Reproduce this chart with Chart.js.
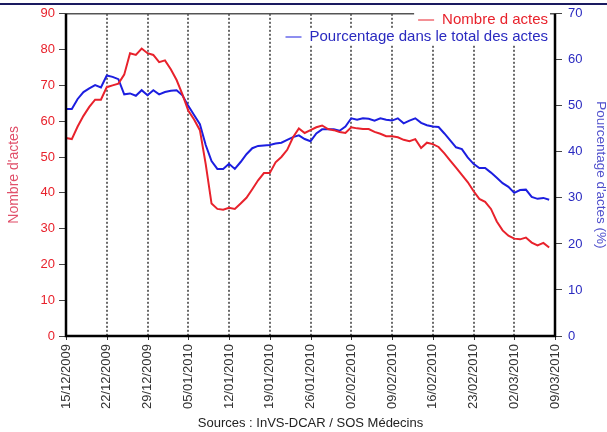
<!DOCTYPE html>
<html>
<head>
<meta charset="utf-8">
<script src="https://cdn.jsdelivr.net/npm/chart.js@4"></script>
<style>
  html, body { margin: 0; padding: 0; background: #fff; }
  canvas { display: block; }
</style>
</head>
<body>
<canvas id="myChart" width="607" height="432"></canvas>
<script>
// --- DONNEES ---
const startDate = "2009-12-15";
const nbJours = 85;
const tickLabels = ["15/12/2009", "22/12/2009", "29/12/2009", "05/01/2010", "12/01/2010", "19/01/2010",
  "26/01/2010", "02/02/2010", "09/02/2010", "16/02/2010", "23/02/2010", "02/03/2010", "09/03/2010"];

const nombreActes = [
  55.3, 55, 58.5, 61.5, 64, 66, 66, 69.5, 70, 70.5,
  73, 79, 78.5, 80.3, 79, 78.5, 76.5, 77, 74.5, 71.5,
  67.5, 63, 60.5, 57.5, 48, 37, 35.5, 35.3, 35.8, 35.5,
  37, 38.6, 41, 43.5, 45.5, 45.5, 48.5, 50, 52, 55.5,
  58, 56.7, 57.5, 58.3, 58.8, 57.8, 57.5, 57, 56.7, 58.3,
  58, 57.8, 57.8, 57, 56.5, 55.8, 55.8, 55.5, 54.8, 54.4,
  55, 52.5, 54, 53.6, 52.8, 51, 49, 47, 45, 43,
  40.5, 38.3, 37.5, 35.5, 32, 29.5, 28, 27.2, 27, 27.5,
  26.1, 25.3, 26, 24.7
];

const pourcentage = [
  49.3, 49.3, 51.5, 53, 53.8, 54.5, 54, 56.6, 56.3, 55.8,
  52.5, 52.7, 52.2, 53.4, 52.3, 53.4, 52.5, 53, 53.3, 53.4,
  52.3, 50, 48, 46, 41.5, 38, 36.3, 36.3, 37.4, 36.3,
  37.8, 39.5, 40.8, 41.3, 41.4, 41.5, 41.8, 42, 42.6, 43.2,
  43.6, 42.8, 42.3, 44, 44.9, 44.9, 44.9, 44.6, 45.5, 47.3,
  47, 47.3, 47.2, 46.8, 47.3, 47, 46.8, 47.3, 46.2, 46.8,
  47.3, 46.3, 45.8, 45.5, 45.4, 44, 42.5, 41, 40.6, 38.8,
  37.4, 36.5, 36.5, 35.5, 34.4, 33.2, 32.4, 31.1, 31.7, 31.8,
  30.2, 29.8, 30, 29.6
];

// --- ETIQUETTES (une par jour) ---
const jours = [];
const d0 = new Date(startDate + "T00:00:00Z");
for (let i = 0; i < nbJours; i++) {
  const d = new Date(d0.getTime() + i * 86400000);
  const dd = String(d.getUTCDate()).padStart(2, "0");
  const mm = String(d.getUTCMonth() + 1).padStart(2, "0");
  jours.push(dd + "/" + mm + "/" + d.getUTCFullYear());
}

const ROUGE = "#e8222c";
const BLEU = "#1c1ee0";
const police = "'Liberation Sans', Arial, sans-serif";

// --- GRILLE HEBDOMADAIRE (pointillés) ---
const grillePlugin = {
  id: "grille",
  beforeDatasetsDraw(chart) {
    const { ctx, chartArea: a, scales } = chart;
    ctx.save();
    for (let i = 0; i < nbJours; i += 7) {
      const x = Math.round(scales.x.getPixelForValue(i));
      ctx.strokeStyle = "#6a6a6a";
      ctx.lineWidth = 2;
      ctx.setLineDash([2, 2]);
      ctx.beginPath();
      ctx.moveTo(x, a.top);
      ctx.lineTo(x, a.bottom);
      ctx.stroke();
      // petite graduation sous l'axe
      ctx.setLineDash([]);
      ctx.lineWidth = 1;
      ctx.strokeStyle = "#333";
      ctx.beginPath();
      ctx.moveTo(x + 0.5, a.bottom);
      ctx.lineTo(x + 0.5, a.bottom + 4);
      ctx.stroke();
    }
    ctx.restore();
  },
};

// --- CADRE + LEGENDE ---
const cadrePlugin = {
  id: "cadre",
  afterDatasetsDraw(chart) {
    const { ctx, chartArea: a } = chart;
    ctx.save();
    ctx.strokeStyle = "#555";
    ctx.lineWidth = 1.5;
    ctx.beginPath();
    ctx.moveTo(a.left, a.top);
    ctx.lineTo(a.right, a.top);
    ctx.stroke();
    ctx.strokeStyle = "#000";
    ctx.lineWidth = 2.5;
    ctx.beginPath();
    ctx.moveTo(a.left, a.top);
    ctx.lineTo(a.left, a.bottom);
    ctx.lineTo(a.right, a.bottom);
    ctx.lineTo(a.right, a.top);
    ctx.stroke();

    // bande bleu marine en haut
    ctx.strokeStyle = "#1a1a60";
    ctx.lineWidth = 2;
    ctx.beginPath();
    ctx.moveTo(0, 4);
    ctx.lineTo(chart.width, 4);
    ctx.stroke();

    // legende
    const items = [
      { txt: "Nombre d actes", col: ROUGE, y: 20 },
      { txt: "Pourcentage dans le total des actes", col: "#2a2ac0", line: BLEU, y: 37 },
    ];
    ctx.font = "15px " + police;
    ctx.textAlign = "right";
    ctx.textBaseline = "middle";
    const xr = a.right - 7;
    items.forEach((it) => {
      const w = ctx.measureText(it.txt).width;
      ctx.fillStyle = "#fff";
      ctx.fillRect(xr - w - 28, it.y - 8, w + 30, 16);
      ctx.fillStyle = it.col;
      ctx.fillText(it.txt, xr, it.y);
      ctx.strokeStyle = it.line || it.col;
      ctx.lineWidth = 1;
      ctx.beginPath();
      ctx.moveTo(xr - w - 24, it.y);
      ctx.lineTo(xr - w - 8, it.y);
      ctx.stroke();
    });
    ctx.restore();
  },
};

// --- CHART.JS ---
const ctx = document.getElementById("myChart").getContext("2d");
new Chart(ctx, {
  type: "line",
  data: {
    labels: jours,
    datasets: [
      {
        label: "Nombre d actes",
        data: nombreActes,
        borderColor: ROUGE,
        borderWidth: 2,
        pointRadius: 0,
        tension: 0,
        yAxisID: "y",
      },
      {
        label: "Pourcentage dans le total des actes",
        data: pourcentage,
        borderColor: BLEU,
        borderWidth: 2,
        pointRadius: 0,
        tension: 0,
        yAxisID: "y2",
      },
    ],
  },
  options: {
    responsive: false,
    animation: false,
    layout: { padding: { top: 12, left: 0, right: 0, bottom: 0 } },
    plugins: { legend: { display: false }, tooltip: { enabled: false } },
    scales: {
      x: {
        type: "category",
        offset: false,
        afterFit: (s) => { s.height = 96; },
        grid: { display: false, drawTicks: true, tickLength: 4 },
        border: { display: false },
        ticks: {
          autoSkip: false,
          minRotation: 90,
          maxRotation: 90,
          padding: 4,
          color: "#333",
          font: { family: police, size: 13 },
          callback: (v, i) => (i % 7 === 0 ? tickLabels[i / 7] : null),
        },
        title: {
          display: true,
          text: "Sources : InVS-DCAR / SOS Médecins",
          color: "#222",
          font: { family: police, size: 13 },
          padding: { top: 0, bottom: 1 },
        },
      },
      y: {
        position: "left",
        min: 0,
        max: 90,
        afterFit: (s) => { s.width = 66; },
        grid: { drawOnChartArea: false, tickLength: 7, tickColor: "#444" },
        border: { display: false },
        ticks: {
          stepSize: 10,
          padding: 4,
          color: ROUGE,
          font: { family: police, size: 13 },
        },
        title: {
          display: true,
          text: "Nombre d'actes",
          color: "#e0506a",
          font: { family: police, size: 14, lineHeight: 1 },
          padding: { top: 7, bottom: 0 },
        },
      },
      y2: {
        position: "right",
        min: 0,
        max: 70,
        afterFit: (s) => { s.width = 52; },
        grid: { drawOnChartArea: false, tickLength: 7, tickColor: "#444" },
        border: { display: false },
        ticks: {
          stepSize: 10,
          padding: 6,
          color: "#2a2ac0",
          font: { family: police, size: 13 },
        },
        title: {
          display: true,
          text: "Pourcentage d'actes (%)",
          color: "#5050cc",
          font: { family: police, size: 13.5, lineHeight: 1 },
          padding: { top: 0, bottom: 0 },
        },
      },
    },
  },
  plugins: [grillePlugin, cadrePlugin],
});
</script>
</body>
</html>
